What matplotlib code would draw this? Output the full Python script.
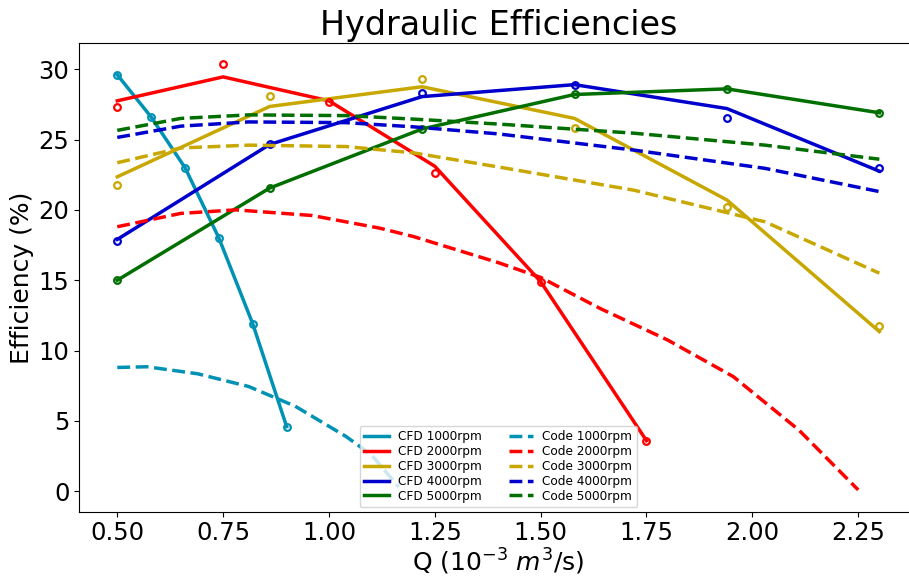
import matplotlib

matplotlib.use("Agg")

import matplotlib.pyplot as plt  # noqa: E402

SPEEDS = ["1000rpm", "2000rpm", "3000rpm", "4000rpm", "5000rpm"]
COLORS = ["#0092b4", "#ff0000", "#c8a800", "#0000cc", "#006f00"]

# CFD flow rates (1e-3 m^3/s) per rotor speed
cfd_q = [
    [0.50, 0.58, 0.66, 0.74, 0.82, 0.90],
    [0.50, 0.75, 1.00, 1.25, 1.50, 1.75],
    [0.50, 0.86, 1.22, 1.58, 1.94, 2.30],
    [0.50, 0.86, 1.22, 1.58, 1.94, 2.30],
    [0.50, 0.86, 1.22, 1.58, 1.94, 2.30],
]
# raw CFD efficiencies (%), drawn as open circles
cfd_raw = [
    [29.6, 26.6, 23.0, 18.0, 11.9, 4.6],
    [27.3, 30.35, 27.7, 22.6, 14.9, 3.6],
    [21.8, 28.1, 29.3, 25.8, 20.2, 11.75],
    [17.8, 24.7, 28.3, 28.9, 26.5, 23.0],
    [15.0, 21.55, 25.75, 28.2, 28.6, 26.9],
]
# smoothed CFD efficiencies (%), drawn as solid lines
cfd_line = [
    [29.6, 26.6, 23.0, 18.0, 11.9, 4.6],
    [27.75, 29.45, 27.75, 23.1, 14.9, 3.6],
    [22.35, 27.35, 28.75, 26.5, 20.7, 11.35],
    [17.9, 24.65, 28.05, 28.9, 27.2, 22.75],
    [15.0, 21.55, 25.75, 28.2, 28.6, 26.9],
]

# efficiency predicted by the 1-D code
code_q = [
    [0.50, 0.57, 0.69, 0.81, 0.92, 1.04, 1.10, 1.165],
    [0.50, 0.65, 0.78, 0.96, 1.12, 1.20, 1.40, 1.50, 1.64, 1.80, 1.955, 2.11, 2.25],
    [0.50, 0.65, 0.81, 1.04, 1.20, 1.40, 1.72, 2.03, 2.30],
    [0.50, 0.65, 0.81, 1.04, 1.20, 1.40, 1.72, 2.03, 2.30],
    [0.50, 0.65, 0.81, 1.04, 1.20, 1.40, 1.72, 2.03, 2.30],
]
code_eff = [
    [8.8, 8.85, 8.35, 7.45, 6.05, 3.9, 2.6, 0.3],
    [18.8, 19.75, 20.0, 19.6, 18.7, 18.1, 16.25, 15.2, 13.0, 10.75, 8.15, 4.35, 0.1],
    [23.35, 24.4, 24.6, 24.5, 24.05, 23.05, 21.4, 19.15, 15.5],
    [25.15, 25.95, 26.25, 26.2, 25.9, 25.4, 24.25, 22.95, 21.3],
    [25.65, 26.5, 26.75, 26.7, 26.45, 26.1, 25.45, 24.6, 23.6],
]

fig = plt.figure(figsize=(9.09, 5.77), dpi=100)
# the right spine sits just past the canvas edge
ax = fig.add_axes([0.0871, 0.1132, 0.9222, 0.8118])

for q, line, color, speed in zip(cfd_q, cfd_line, COLORS, SPEEDS):
    ax.plot(q, line, color=color, lw=2.5, label=f"CFD {speed}")
for q, raw, color in zip(cfd_q, cfd_raw, COLORS):
    ax.plot(q, raw, "o", color=color, mfc="none", ms=4.8, mew=1.6)
for q, eff, color, speed in zip(code_q, code_eff, COLORS, SPEEDS):
    ax.plot(q, eff, "--", color=color, lw=2.5, label=f"Code {speed}")

ax.set_xlim(0.41, 2.39)
ax.set_ylim(-1.45, 31.84)
ax.set_xticks([0.5, 0.75, 1.0, 1.25, 1.5, 1.75, 2.0, 2.25])
ax.tick_params(labelsize=17.5)
ax.set_xlabel(r"Q ($10^{-3}$ $m^3$/s)", fontsize=18, labelpad=1)
ax.set_ylabel("Efficiency (%)", fontsize=18, labelpad=3)
ax.set_title("Hydraulic Efficiencies", fontsize=24)

ax.legend(ncol=2, loc="lower center", fontsize=8.7, labelspacing=0.15,
          borderaxespad=0.35, columnspacing=2.2)

fig.savefig("out.png", dpi=100)
